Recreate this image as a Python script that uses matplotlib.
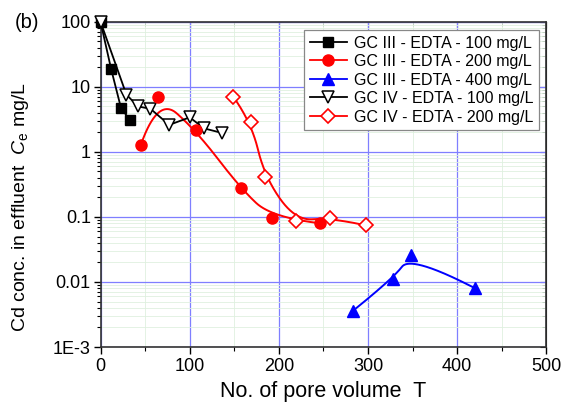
import numpy as np
import matplotlib.pyplot as plt
from matplotlib.ticker import LogLocator, MultipleLocator, NullFormatter

plt.rcParams['font.family'] = ['Liberation Sans', 'DejaVu Sans']
plt.rcParams['mathtext.fontset'] = 'custom'
plt.rcParams['mathtext.it'] = 'Liberation Sans:italic'
plt.rcParams['mathtext.rm'] = 'Liberation Sans'

# pore volume vs effluent Cd concentration (mg/L)
gc3_100_x = [0, 12, 23, 33]
gc3_100_y = [100, 18.5, 4.7, 3.1]

gc3_200_x = [45, 64, 107, 157, 192, 246]
gc3_200_y = [1.26, 7.1, 2.15, 0.275, 0.098, 0.080]

gc3_400_x = [283, 328, 348, 420]
gc3_400_y = [0.0036, 0.0113, 0.026, 0.0080]

gc4_100_x = [0, 29, 42, 56, 77, 100, 116, 136]
gc4_100_y = [100, 7.6, 5.0, 4.6, 2.6, 3.4, 2.3, 1.96]

gc4_200_x = [149, 169, 184, 219, 257, 298]
gc4_200_y = [7.0, 2.9, 0.41, 0.087, 0.098, 0.074]

labels = ["GC III - EDTA - 100 mg/L", "GC III - EDTA - 200 mg/L",
          "GC III - EDTA - 400 mg/L", "GC IV - EDTA - 100 mg/L",
          "GC IV - EDTA - 200 mg/L"]


def bspline(xs, ys, k=2, n=300):
    """Clamped B-spline using the points as control points (log-y space)."""
    P = np.column_stack([xs, np.log10(ys)])
    m = len(P)
    k = min(k, m - 1)
    inner = np.linspace(0, 1, m - k + 1)[1:-1]
    t = np.concatenate([np.zeros(k + 1), inner, np.ones(k + 1)])
    u = np.linspace(0, 1, n)
    u[-1] -= 1e-12
    # Cox-de Boor recursion
    N = np.array([((t[i] <= u) & (u < t[i + 1])).astype(float)
                  for i in range(len(t) - 1)])
    for d in range(1, k + 1):
        Nn = np.zeros((len(t) - 1 - d, n))
        for i in range(len(t) - 1 - d):
            a = t[i + d] - t[i]
            b = t[i + d + 1] - t[i + 1]
            if a > 0:
                Nn[i] += (u - t[i]) / a * N[i]
            if b > 0:
                Nn[i] += (t[i + d + 1] - u) / b * N[i + 1]
        N = Nn
    C = N.T @ P
    return C[:, 0], 10 ** C[:, 1]


fig = plt.figure(figsize=(5.68, 4.04), dpi=100)
ax = fig.add_axes([0.177, 0.141, 0.785, 0.805])

ax.set_yscale('log')
ax.set_xlim(0, 500)
ax.set_ylim(1e-3, 100)

# grid
ax.xaxis.set_major_locator(MultipleLocator(100))
ax.xaxis.set_minor_locator(MultipleLocator(50))
ax.yaxis.set_minor_locator(LogLocator(base=10, subs=np.arange(2, 10), numticks=20))
ax.yaxis.set_minor_formatter(NullFormatter())
ax.grid(which='major', color='#7f7fff', lw=0.9)
ax.grid(which='minor', color='#dff0df', lw=0.6)
ax.set_axisbelow(True)

ax.set_yticks([1e-3, 1e-2, 1e-1, 1, 10, 100])
ax.set_yticklabels(['1E-3', '0.01', '0.1', '1', '10', '100'])
ax.tick_params(which='major', direction='out', length=5, width=1, labelsize=13)
ax.tick_params(which='minor', direction='out', length=3, width=0.8)
ax.tick_params(axis='y', which='major', pad=2)
ax.tick_params(axis='x', which='major', pad=3)
for s in ax.spines.values():
    s.set_linewidth(1.2)
    s.set_color('#333333')

top = ax.secondary_xaxis('top')
top.xaxis.set_major_locator(MultipleLocator(100))
top.xaxis.set_minor_locator(MultipleLocator(50))
top.tick_params(which='both', direction='in', labeltop=False, length=4)
top.tick_params(which='minor', length=3)
right = ax.secondary_yaxis('right')
right.yaxis.set_major_locator(LogLocator(base=10, numticks=10))
right.yaxis.set_minor_locator(LogLocator(base=10, subs=np.arange(2, 10), numticks=20))
right.tick_params(which='both', direction='in', labelright=False, length=4)
right.tick_params(which='minor', length=3)
right.yaxis.set_minor_formatter(NullFormatter())

# straight-line series
ax.plot(gc3_100_x, gc3_100_y, '-s', color='black', mfc='black', ms=7,
        lw=1.3, clip_on=False, zorder=3)
ax.plot(gc4_100_x, gc4_100_y, '-v', color='black', mfc='white', mec='black',
        ms=9, mew=1.1, lw=1.3, clip_on=False, zorder=4)

# smoothed series
sx, sy = bspline(gc3_200_x, gc3_200_y)
ax.plot(sx, sy, '-', color='red', lw=1.4, zorder=3)
ax.plot(gc3_200_x, gc3_200_y, 'o', color='red', ms=8, zorder=4)

sx, sy = bspline(gc3_400_x, gc3_400_y)
ax.plot(sx, sy, '-', color='blue', lw=1.4, zorder=3)
ax.plot(gc3_400_x, gc3_400_y, '^', color='blue', ms=8, zorder=4)

sx, sy = bspline(gc4_200_x, gc4_200_y)
ax.plot(sx, sy, '-', color='red', lw=1.4, zorder=3)
ax.plot(gc4_200_x, gc4_200_y, 'D', color='red', mfc='white', ms=7,
        mew=1.2, zorder=4)

# legend proxies
h = [
    ax.plot([], [], '-s', color='black', ms=7, lw=1.3)[0],
    ax.plot([], [], '-o', color='red', ms=8, lw=1.3)[0],
    ax.plot([], [], '-^', color='blue', ms=8, lw=1.3)[0],
    ax.plot([], [], '-v', color='black', mfc='white', ms=9, mew=1.1, lw=1.3)[0],
    ax.plot([], [], '-D', color='red', mfc='white', ms=7, mew=1.2, lw=1.3)[0],
]
leg = ax.legend(h, labels, loc='upper right', bbox_to_anchor=(0.983, 0.975),
                fontsize=11.5, fancybox=False, framealpha=1, edgecolor='#888888',
                handlelength=2.3, handletextpad=0.45, borderpad=0.35,
                labelspacing=0.22, borderaxespad=0.0)
leg.get_frame().set_linewidth(0.9)

ax.set_xlabel('No. of pore volume  T', fontsize=15.5, labelpad=4)
ax.set_ylabel('Cd conc. in effluent  $C_\\mathregular{e}$ mg/L', fontsize=14)
ax.yaxis.set_label_coords(-0.155, 0.43)
fig.text(0.026, 0.945, '(b)', fontsize=14.5, va='center')

fig.savefig('out.png', dpi=100)
